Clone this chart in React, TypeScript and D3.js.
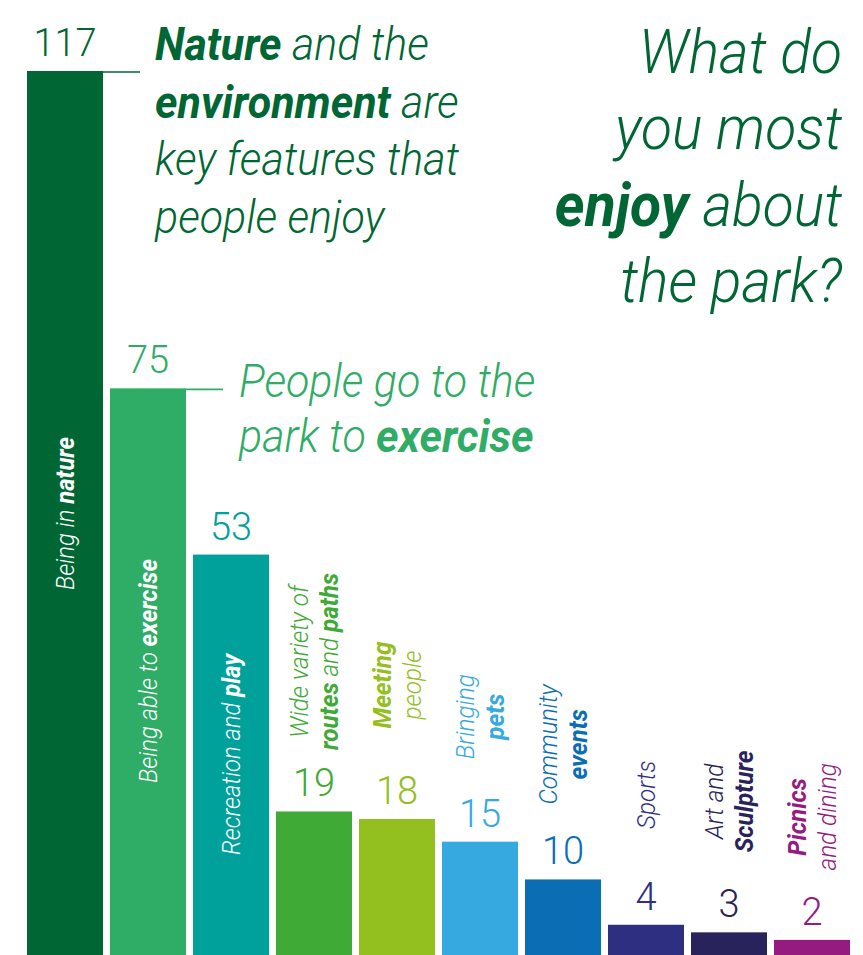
import React from 'react';
import * as d3 from 'd3';

// --- data ---
const categories = [
  'Being in nature',
  'Being able to exercise',
  'Recreation and play',
  'Wide variety of routes and paths',
  'Meeting people',
  'Bringing pets',
  'Community events',
  'Sports',
  'Art and Sculpture',
  'Picnics and dining',
];
const values = [117, 75, 53, 19, 18, 15, 10, 4, 3, 2];
const colors = [
  '#006633', '#2fac66', '#00a19a', '#3faa35', '#93c01f',
  '#36a9e1', '#0b6db3', '#2e2f80', '#29235c', '#951b81',
];

type Seg = { t: string; b?: boolean };
// label lines for each category; b = bold part
const labelLines: Seg[][][] = [
  [[{ t: 'Being in ' }, { t: 'nature', b: true }]],
  [[{ t: 'Being able to ' }, { t: 'exercise', b: true }]],
  [[{ t: 'Recreation and ' }, { t: 'play', b: true }]],
  [[{ t: 'Wide variety of' }], [{ t: 'routes', b: true }, { t: ' and ' }, { t: 'paths', b: true }]],
  [[{ t: 'Meeting', b: true }], [{ t: 'people' }]],
  [[{ t: 'Bringing' }], [{ t: 'pets', b: true }]],
  [[{ t: 'Community' }], [{ t: 'events', b: true }]],
  [[{ t: 'Sports' }]],
  [[{ t: 'Art and' }], [{ t: 'Sculpture', b: true }]],
  [[{ t: 'Picnics', b: true }], [{ t: 'and dining' }]],
];

const titleLines: Seg[][] = [
  [{ t: 'What do' }],
  [{ t: 'you most' }],
  [{ t: 'enjoy', b: true }, { t: ' about' }],
  [{ t: 'the park?' }],
];
const natureNote: Seg[][] = [
  [{ t: 'Nature', b: true }, { t: ' and the' }],
  [{ t: 'environment', b: true }, { t: ' are' }],
  [{ t: 'key features that' }],
  [{ t: 'people enjoy' }],
];
const exerciseNote: Seg[][] = [
  [{ t: 'People go to the' }],
  [{ t: 'park to ' }, { t: 'exercise', b: true }],
];

// --- layout ---
const W = 863;
const H = 955;
const FONT = 'Roboto, sans-serif';
const K = 0.935; // horizontal squeeze to mimic a condensed face
// bars drawn inside: distance of label start from bottom
const insideStart = [365, 172, 100];
// above bars: centre of label block above bar top
const aboveGap = [0, 0, 0, 150, 134, 125, 135, 130, 131, 123];

const segs = (line: Seg[]) =>
  line.map((s, i) => (
    <tspan key={i} fontWeight={s.b ? 700 : 300}>{s.t}</tspan>
  ));

export default function App() {
  const x = d3.scaleBand<string>()
    .domain(categories)
    .range([27, 850])
    .paddingInner(7 / 83)
    .paddingOuter(0);
  const y = d3.scaleLinear().domain([0, 117]).range([H, 71]);

  return (
    <svg width={W} height={H} style={{ position: 'absolute', left: 0, top: 0, background: '#fff' }}
      fontFamily={FONT} fontStyle="italic">
      {/* bars */}
      {categories.map((c, i) => (
        <rect key={c} x={x(c)} y={y(values[i])} width={x.bandwidth()} height={H - y(values[i])} fill={colors[i]} />
      ))}

      {/* value labels */}
      {categories.map((c, i) => (
        <text key={c} x={(x(c) as number) + x.bandwidth() / 2} y={y(values[i]) - 15}
          textAnchor="middle" fontSize={38} fontWeight={300} fontStyle="normal" fill={colors[i]}>
          {values[i]}
        </text>
      ))}

      {/* connector lines for first two bars */}
      {[0, 1].map(i => (
        <line key={i} x1={(x(categories[i]) as number) + x.bandwidth()} x2={(x(categories[i]) as number) + x.bandwidth() + 37}
          y1={y(values[i]) + 1} y2={y(values[i]) + 1} stroke={colors[i]} strokeWidth={1.6} />
      ))}

      {/* category labels */}
      {categories.map((c, i) => {
        const cx = (x(c) as number) + x.bandwidth() / 2;
        const lines = labelLines[i];
        if (i < 3) {
          return (
            <g key={c} transform={`translate(${cx},${H - insideStart[i]}) rotate(-90) scale(${K},1)`}>
              <text x={0} y={9} fontSize={25.5} fill="#fff">{segs(lines[0])}</text>
            </g>
          );
        }
        const cy = y(values[i]) - aboveGap[i];
        const n = lines.length;
        return (
          <g key={c} transform={`translate(${cx},${cy}) rotate(-90) scale(${K},1)`}>
            {lines.map((ln, j) => (
              <text key={j} x={0} y={(j - (n - 1) / 2) * 30 + 9} textAnchor="middle" fontSize={26} fill={colors[i]}>
                {segs(ln)}
              </text>
            ))}
          </g>
        );
      })}

      {/* notes */}
      <g transform={`translate(155,0) scale(${K},1)`}>
        {natureNote.map((ln, j) => (
          <text key={j} x={0} y={60 + j * 57.7} fontSize={46} fill="#006633">{segs(ln)}</text>
        ))}
      </g>
      <g transform={`translate(239,0) scale(${K},1)`}>
        {exerciseNote.map((ln, j) => (
          <text key={j} x={0} y={397 + j * 55} fontSize={46} fill="#2fac66">{segs(ln)}</text>
        ))}
      </g>

      {/* title */}
      <g transform={`translate(842,0) scale(${K},1)`}>
        {titleLines.map((ln, j) => (
          <text key={j} x={0} y={73 + j * 76.5} textAnchor="end" fontSize={61} fill="#006633">{segs(ln)}</text>
        ))}
      </g>
    </svg>
  );
}
